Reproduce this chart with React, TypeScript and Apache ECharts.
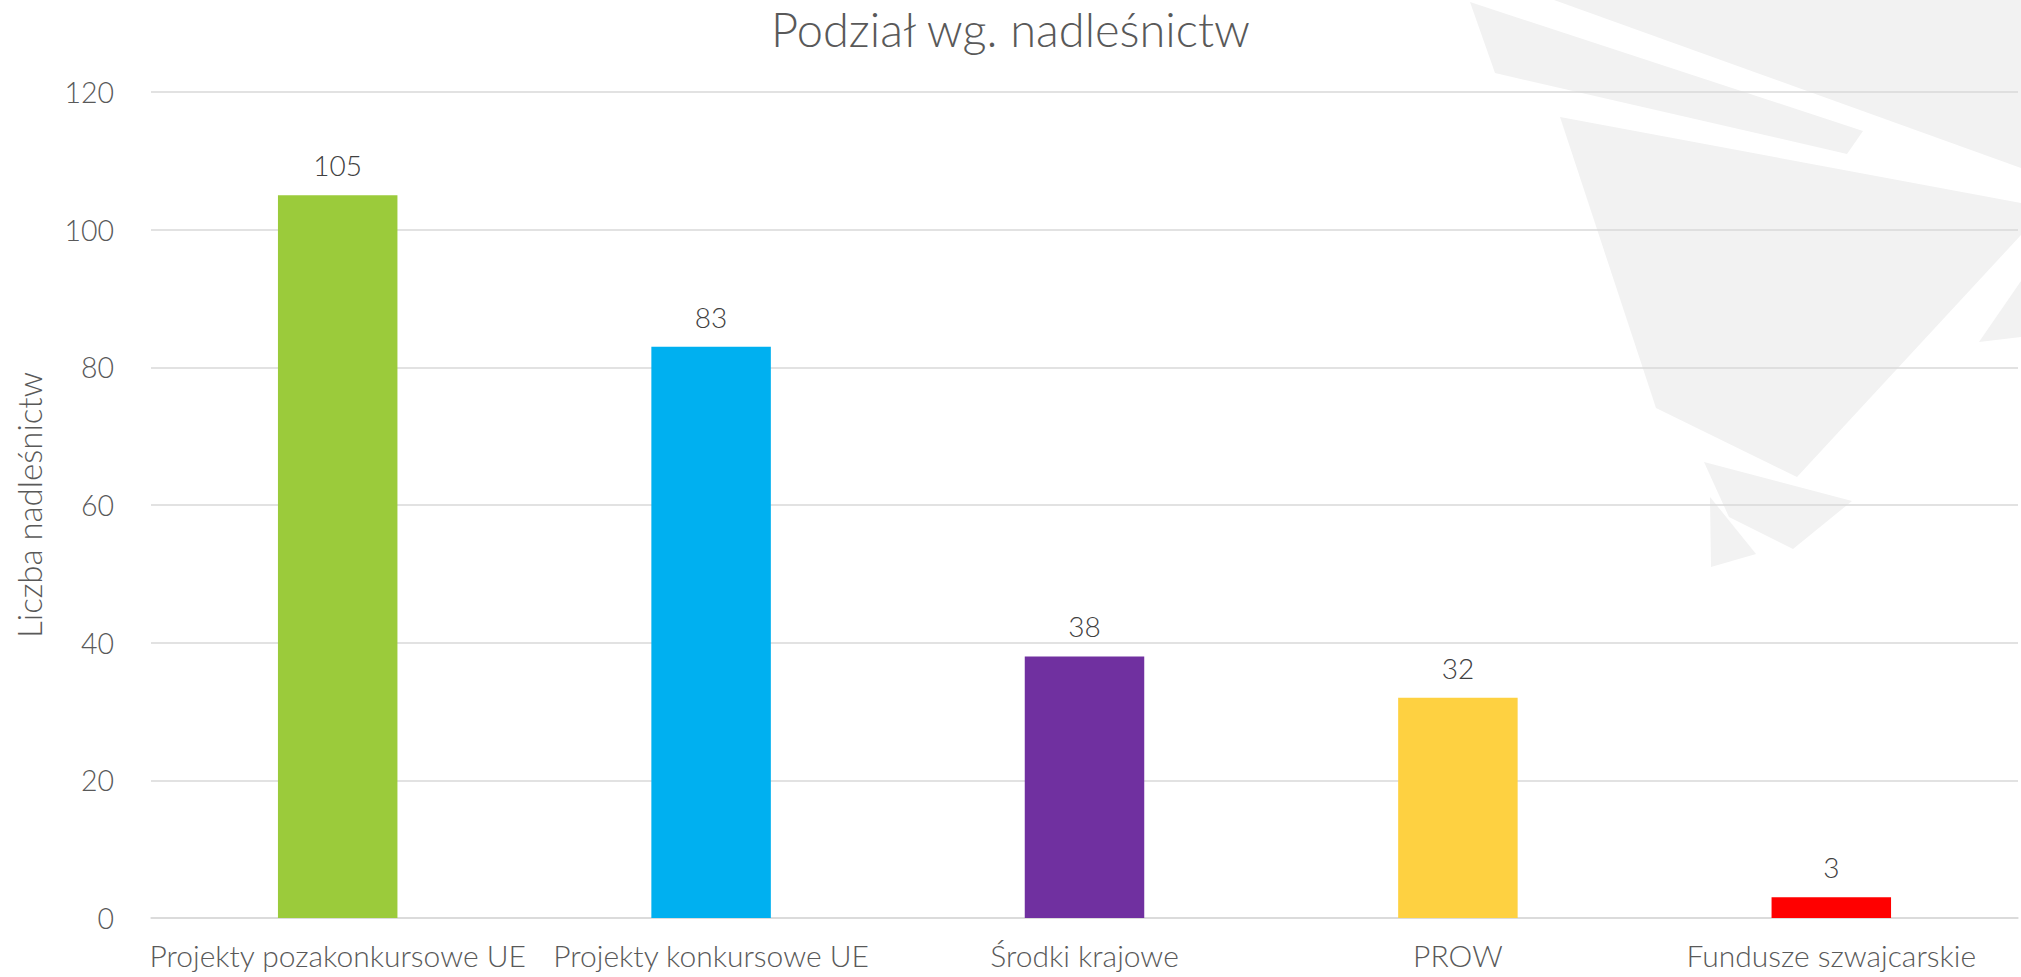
import React, { useEffect, useRef } from "react";
import * as echarts from "echarts";

const categories = [
  "Projekty pozakonkursowe UE",
  "Projekty konkursowe UE",
  "Środki krajowe",
  "PROW",
  "Fundusze szwajcarskie",
];
const values = [105, 83, 38, 32, 3];
const barColors = ["#9BCB3B", "#00B0F0", "#7030A0", "#FED141", "#FF0000"];
const yTicks = { min: 0, max: 120, interval: 20 };
const titleText = "Podział wg. nadleśnictw";
const yAxisName = "Liczba nadleśnictw";

const bgShapes: number[][][] = [
  [[1470, 2], [1863, 131], [1847, 154], [1495, 73]],
  [[1554, 0], [2021, 0], [2021, 168]],
  [[1560, 117], [2021, 203], [2021, 235], [1797, 477], [1656, 408]],
  [[2021, 281], [1979, 342], [2021, 337]],
  [[1704, 462], [1852, 501], [1793, 549], [1729, 517]],
  [[1710, 497], [1756, 554], [1711, 567]],
];

const FONT = "Lato";

export default function App() {
  const ref = useRef<HTMLDivElement>(null);
  useEffect(() => {
    document.body.style.margin = "0";
    if (!ref.current) return;
    const chart = echarts.init(ref.current, undefined, { renderer: "svg" });
    chart.setOption({
      animation: false,
      backgroundColor: "#FFFFFF",
      textStyle: { fontFamily: FONT },
      title: {
        text: titleText,
        left: "center",
        top: 0,
        textStyle: {
          fontFamily: FONT,
          fontWeight: 300,
          fontSize: 47,
          color: "#595959",
        },
      },
      graphic: bgShapes.map((pts) => ({
        type: "polygon",
        z: -10,
        silent: true,
        shape: { points: pts },
        style: { fill: "#F2F2F2" },
      })),
      grid: { left: 151, right: 3, top: 92, bottom: 59, containLabel: false },
      xAxis: {
        type: "category",
        data: categories,
        axisTick: { show: false },
        axisLine: { lineStyle: { color: "#D9D9D9", width: 1.5 } },
        axisLabel: {
          fontFamily: FONT,
          fontWeight: 300,
          fontSize: 30,
          color: "#595959",
          margin: 22,
          interval: 0,
        },
      },
      yAxis: {
        type: "value",
        min: yTicks.min,
        max: yTicks.max,
        interval: yTicks.interval,
        name: yAxisName,
        nameLocation: "middle",
        nameGap: 106,
        nameTextStyle: {
          fontFamily: FONT,
          fontWeight: 300,
          fontSize: 33,
          color: "#595959",
        },
        axisLine: { show: false },
        axisTick: { show: false },
        splitLine: { lineStyle: { color: "#D9D9D9", width: 1.5 } },
        axisLabel: {
          fontFamily: FONT,
          fontWeight: 300,
          fontSize: 28.5,
          color: "#595959",
          margin: 37,
        },
      },
      series: [
        {
          type: "bar",
          barWidth: "32%",
          data: values.map((v, i) => ({ value: v, itemStyle: { color: barColors[i] } })),
          label: {
            show: true,
            position: "top",
            distance: 16,
            fontFamily: FONT,
            fontWeight: 300,
            fontSize: 28,
            color: "#404040",
          },
        },
      ],
    });
    return () => chart.dispose();
  }, []);
  return <div ref={ref} style={{ width: 2021, height: 977 }} />;
}
